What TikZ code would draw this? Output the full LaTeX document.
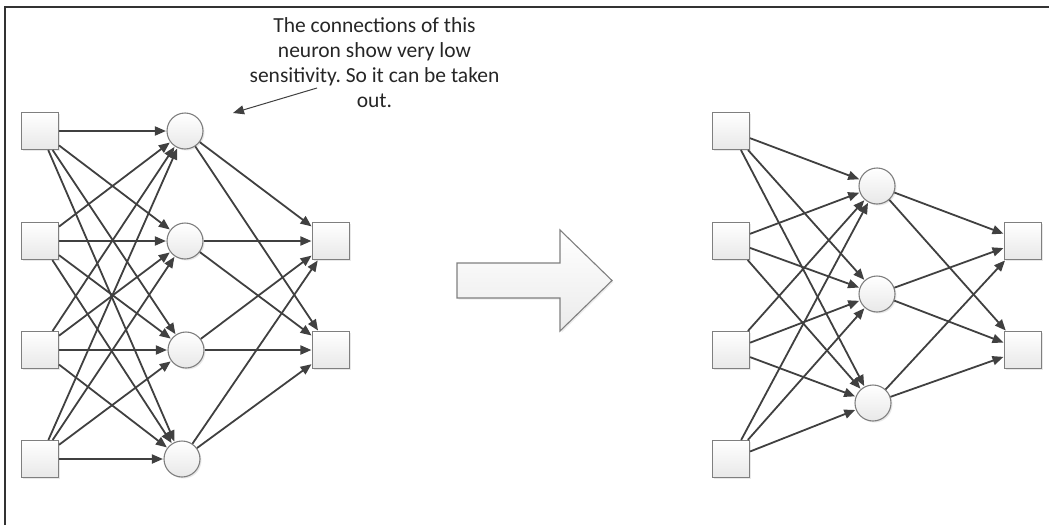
\documentclass[tikz,border=0pt]{standalone}
\usepackage{fontspec}
\setmainfont{Carlito}
\frenchspacing
\usetikzlibrary{arrows.meta,shadows}
\definecolor{linec}{HTML}{404040}
\definecolor{edgec}{HTML}{7F7F7F}
\definecolor{framec}{HTML}{333333}
\tikzset{
  unitbox/.style={draw=edgec, line width=1.1pt, minimum size=37pt, inner sep=0pt,
    top color=white, bottom color=black!9,
    drop shadow={opacity=0.18, shadow xshift=1.5pt, shadow yshift=-1.5pt}},
  neuron/.style={circle, draw=edgec, line width=1.1pt, minimum size=36pt, inner sep=0pt,
    top color=white, bottom color=black!9,
    drop shadow={opacity=0.18, shadow xshift=1.5pt, shadow yshift=-1.5pt}},
  conn/.style={draw=linec, line width=1.8pt, -{Triangle[length=11pt,width=9pt]}, shorten >=0.5pt},
  annot/.style={draw=linec, line width=1pt, -{Triangle[length=11pt,width=9pt]}},
  bigarrow/.style={draw=edgec, line width=1.1pt, top color=white, bottom color=black!8,
    drop shadow={opacity=0.15, shadow xshift=1.5pt, shadow yshift=-1.5pt}},
  notetext/.style={align=center, text=black!85, font=\fontsize{21.5}{25}\selectfont, inner sep=0pt}
}
\begin{document}
\begin{tikzpicture}[x=1pt,y=-1pt]
\useasboundingbox (0,0) rectangle (1049,525);
% frame
\draw[framec, line width=1.4pt] (5,525) -- (5,7) -- (1049,7);

% ---------- left network ----------
\foreach \i/\y in {1/131,2/241,3/350,4/459}
  \node[unitbox] (Li\i) at (40,\y) {};
\node[neuron] (Lh1) at (185,131) {};
\node[neuron] (Lh2) at (185,241) {};
\node[neuron] (Lh3) at (186,350) {};
\node[neuron] (Lh4) at (182,459) {};
\node[unitbox] (Lo1) at (331,241) {};
\node[unitbox] (Lo2) at (331,350) {};
\foreach \i in {1,...,4}
  \foreach \h in {1,...,4}
    \draw[conn] (Li\i) -- (Lh\h);
\foreach \h in {1,...,4}
  \foreach \o in {1,2}
    \draw[conn] (Lh\h) -- (Lo\o);

% ---------- big arrow ----------
\draw[bigarrow] (457,263) -- (560,263) -- (560,230) -- (612,280.5)
  -- (560,331) -- (560,298) -- (457,298) -- cycle;

% ---------- right network ----------
\foreach \i/\y in {1/131,2/241,3/350,4/459}
  \node[unitbox] (Ri\i) at (731,\y) {};
\node[neuron] (Rh1) at (877,186) {};
\node[neuron] (Rh2) at (877,294) {};
\node[neuron] (Rh3) at (873,403) {};
\node[unitbox] (Ro1) at (1023,241) {};
\node[unitbox] (Ro2) at (1023,350) {};
\foreach \i in {1,...,4}
  \foreach \h in {1,...,3}
    \draw[conn] (Ri\i) -- (Rh\h);
\foreach \h in {1,...,3}
  \foreach \o in {1,2}
    \draw[conn] (Rh\h) -- (Ro\o);

% ---------- annotation ----------
\node[notetext] (note) at (374.5,63) {The connections of this\\neuron show very low\\sensitivity. So it can be taken\\out.};
\coordinate (annS) at (317,88);
\coordinate (annE) at (233,113);
\draw[annot] (annS) -- (annE);
\end{tikzpicture}
\end{document}
